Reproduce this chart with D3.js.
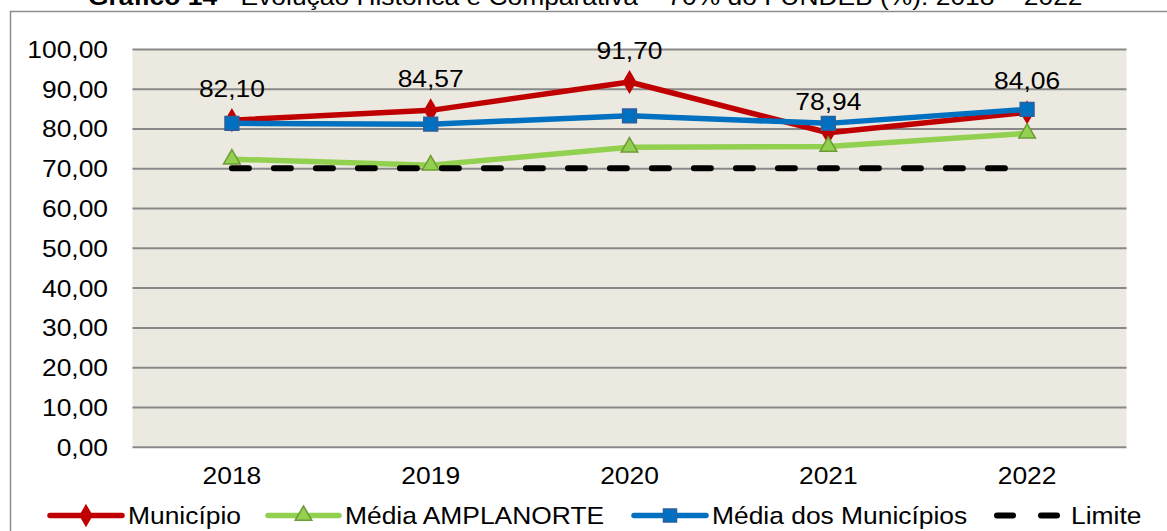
<!DOCTYPE html>
<html lang="pt-BR">
<head>
<meta charset="utf-8">
<script src="https://cdn.jsdelivr.net/npm/d3@7"></script>
<style>
  html, body { margin: 0; padding: 0; background: #ffffff; }
  svg { display: block; }
  text { font-family: "Liberation Sans", Arial, sans-serif; fill: #000; }
</style>
</head>
<body>
<svg id="chart" width="1167" height="531"></svg>
<script>
// Categories and series (percentual aplicado dos 70% do FUNDEB)
const anos = ["2018", "2019", "2020", "2021", "2022"];
const municipio = [82.10, 84.57, 91.70, 78.94, 84.06];
const mediaAmplanorte = [72.3, 70.8, 75.3, 75.5, 78.8];
const mediaMunicipios = [81.3, 81.1, 83.2, 81.3, 84.8];
const limite = [70, 70, 70, 70, 70];
const yTicks = [0, 10, 20, 30, 40, 50, 60, 70, 80, 90, 100];
const tituloNegrito = "Gráfico 14";
const tituloResto = " - Evolução Histórica e Comparativa – 70% do FUNDEB (%): 2018 – 2022";

const fmt = v => d3.format(".2f")(v).replace(".", ",");

// Text in this chart is set slightly wide
const SX = 1.1;
// Places a text at (px, py) with horizontal widening around its anchor
function placeText(sel, px, py) {
  sel.attr("x", 0).attr("y", 0)
     .attr("transform", `translate(${px},${py}) scale(${SX},1)`);
  return sel;
}

const svg = d3.select("#chart");
const plot = { left: 132.5, right: 1126.5, top: 49, bottom: 446.7 };

const x = d3.scaleBand().domain(anos).range([plot.left, plot.right]);
const xc = d => x(d) + x.bandwidth() / 2;
const y = d3.scaleLinear().domain([0, 100]).range([plot.bottom, plot.top]);

// Outer frame
svg.append("rect")
  .attr("x", 10.5).attr("y", 11.5)
  .attr("width", 1300).attr("height", 700)
  .attr("fill", "#fff").attr("stroke", "#8e8e8e").attr("stroke-width", 1.5);

// Title (only its lower part falls inside the page)
const title = svg.append("text").attr("font-size", 24);
placeText(title, 88, 5);
title.append("tspan").attr("font-weight", "bold").text(tituloNegrito);
title.append("tspan").text(tituloResto);

// Plot background
svg.append("rect")
  .attr("x", plot.left).attr("y", plot.top)
  .attr("width", plot.right - plot.left).attr("height", plot.bottom - plot.top)
  .attr("fill", "#ECEAE0");

// Gridlines + y axis labels
const yAxis = d3.axisLeft(y)
  .tickValues(yTicks)
  .tickSize(-(plot.right - plot.left))
  .tickPadding(24)
  .tickFormat(fmt);
const gy = svg.append("g")
  .attr("transform", `translate(${plot.left},0)`)
  .call(yAxis);
gy.select(".domain").remove();
gy.selectAll(".tick line").attr("stroke", "#888888").attr("stroke-width", 2);
gy.selectAll(".tick text")
  .attr("font-size", 24)
  .attr("font-family", "Liberation Sans, Arial, sans-serif")
  .attr("fill", "#000")
  .attr("dy", "0.35em")
  .each(function () { placeText(d3.select(this), -24.5, 0); });

// x axis labels
const xAxis = d3.axisBottom(x).tickSize(0).tickPadding(20);
const gx = svg.append("g")
  .attr("transform", `translate(0,${plot.bottom})`)
  .call(xAxis);
gx.select(".domain").remove();
gx.selectAll(".tick text")
  .attr("font-size", 24)
  .attr("font-family", "Liberation Sans, Arial, sans-serif")
  .attr("fill", "#000")
  .attr("dy", "0.71em")
  .each(function () { placeText(d3.select(this), 0, 20); });

const line = d3.line().x((d, i) => xc(anos[i])).y(d => y(d));

const series = [
  { name: "Município", values: municipio, color: "#C00000", marker: "diamond", mfill: "#C00000", mstroke: "#C00000", msize: 130 },
  { name: "Média AMPLANORTE", values: mediaAmplanorte, color: "#92D050", marker: "triangle", mfill: "#92D050", mstroke: "#6E9A36", msize: 120 },
  { name: "Média dos Municípios", values: mediaMunicipios, color: "#0070C0", marker: "square", mfill: "#0070C0", mstroke: "#2F5F9A", msize: 190 },
];
const symbolType = { diamond: d3.symbolDiamond, triangle: d3.symbolTriangle, square: d3.symbolSquare };

series.forEach(s => {
  svg.append("path")
    .datum(s.values)
    .attr("d", line)
    .attr("fill", "none")
    .attr("stroke", s.color)
    .attr("stroke-width", 5.5)
    .attr("stroke-linejoin", "round");
  svg.selectAll(null)
    .data(s.values)
    .join("path")
    .attr("transform", (d, i) => `translate(${xc(anos[i])},${y(d)})`)
    .attr("d", d3.symbol().type(symbolType[s.marker]).size(s.msize))
    .attr("fill", s.mfill)
    .attr("stroke", s.mstroke)
    .attr("stroke-width", 1.5);
});

// Limit line (dashed)
svg.append("path")
  .datum(limite)
  .attr("d", line)
  .attr("fill", "none")
  .attr("stroke", "#000")
  .attr("stroke-width", 6)
  .attr("stroke-linecap", "round")
  .attr("stroke-dasharray", "17,25");

// Data labels for Município
svg.selectAll(null)
  .data(municipio)
  .join("text")
  .attr("text-anchor", "middle")
  .attr("font-size", 24)
  .text(fmt)
  .each(function (d, i) { placeText(d3.select(this), xc(anos[i]), y(d) - 23); });

// Legend
const legY = 515.5;
const legend = [
  { type: "line", color: "#C00000", marker: "diamond", mfill: "#C00000", mstroke: "#C00000", msize: 120, x0: 50, x1: 122, label: "Município", tx: 128 },
  { type: "line", color: "#92D050", marker: "triangle", mfill: "#92D050", mstroke: "#6E9A36", msize: 120, x0: 268, x1: 339, label: "Média AMPLANORTE", tx: 345 },
  { type: "line", color: "#0070C0", marker: "square", mfill: "#0070C0", mstroke: "#2F5F9A", msize: 170, x0: 634, x1: 706, label: "Média dos Municípios", tx: 712 },
  { type: "dash", x0: 994, x1: 1060, label: "Limite", tx: 1071 },
];
legend.forEach(l => {
  if (l.type === "line") {
    svg.append("line")
      .attr("x1", l.x0).attr("x2", l.x1).attr("y1", legY).attr("y2", legY)
      .attr("stroke", l.color).attr("stroke-width", 5.5).attr("stroke-linecap", "round");
    svg.append("path")
      .attr("transform", `translate(${(l.x0 + l.x1) / 2},${legY})`)
      .attr("d", d3.symbol().type(symbolType[l.marker]).size(l.msize))
      .attr("fill", l.mfill).attr("stroke", l.mstroke).attr("stroke-width", 1.5);
  } else {
    svg.append("line")
      .attr("x1", l.x0 + 3).attr("x2", l.x1 - 3).attr("y1", legY).attr("y2", legY)
      .attr("stroke", "#000").attr("stroke-width", 6).attr("stroke-linecap", "round")
      .attr("stroke-dasharray", "16,28");
  }
  const t = svg.append("text").attr("font-size", 24).text(l.label);
  placeText(t, l.tx, legY + 8.5);
});
</script>
</body>
</html>
